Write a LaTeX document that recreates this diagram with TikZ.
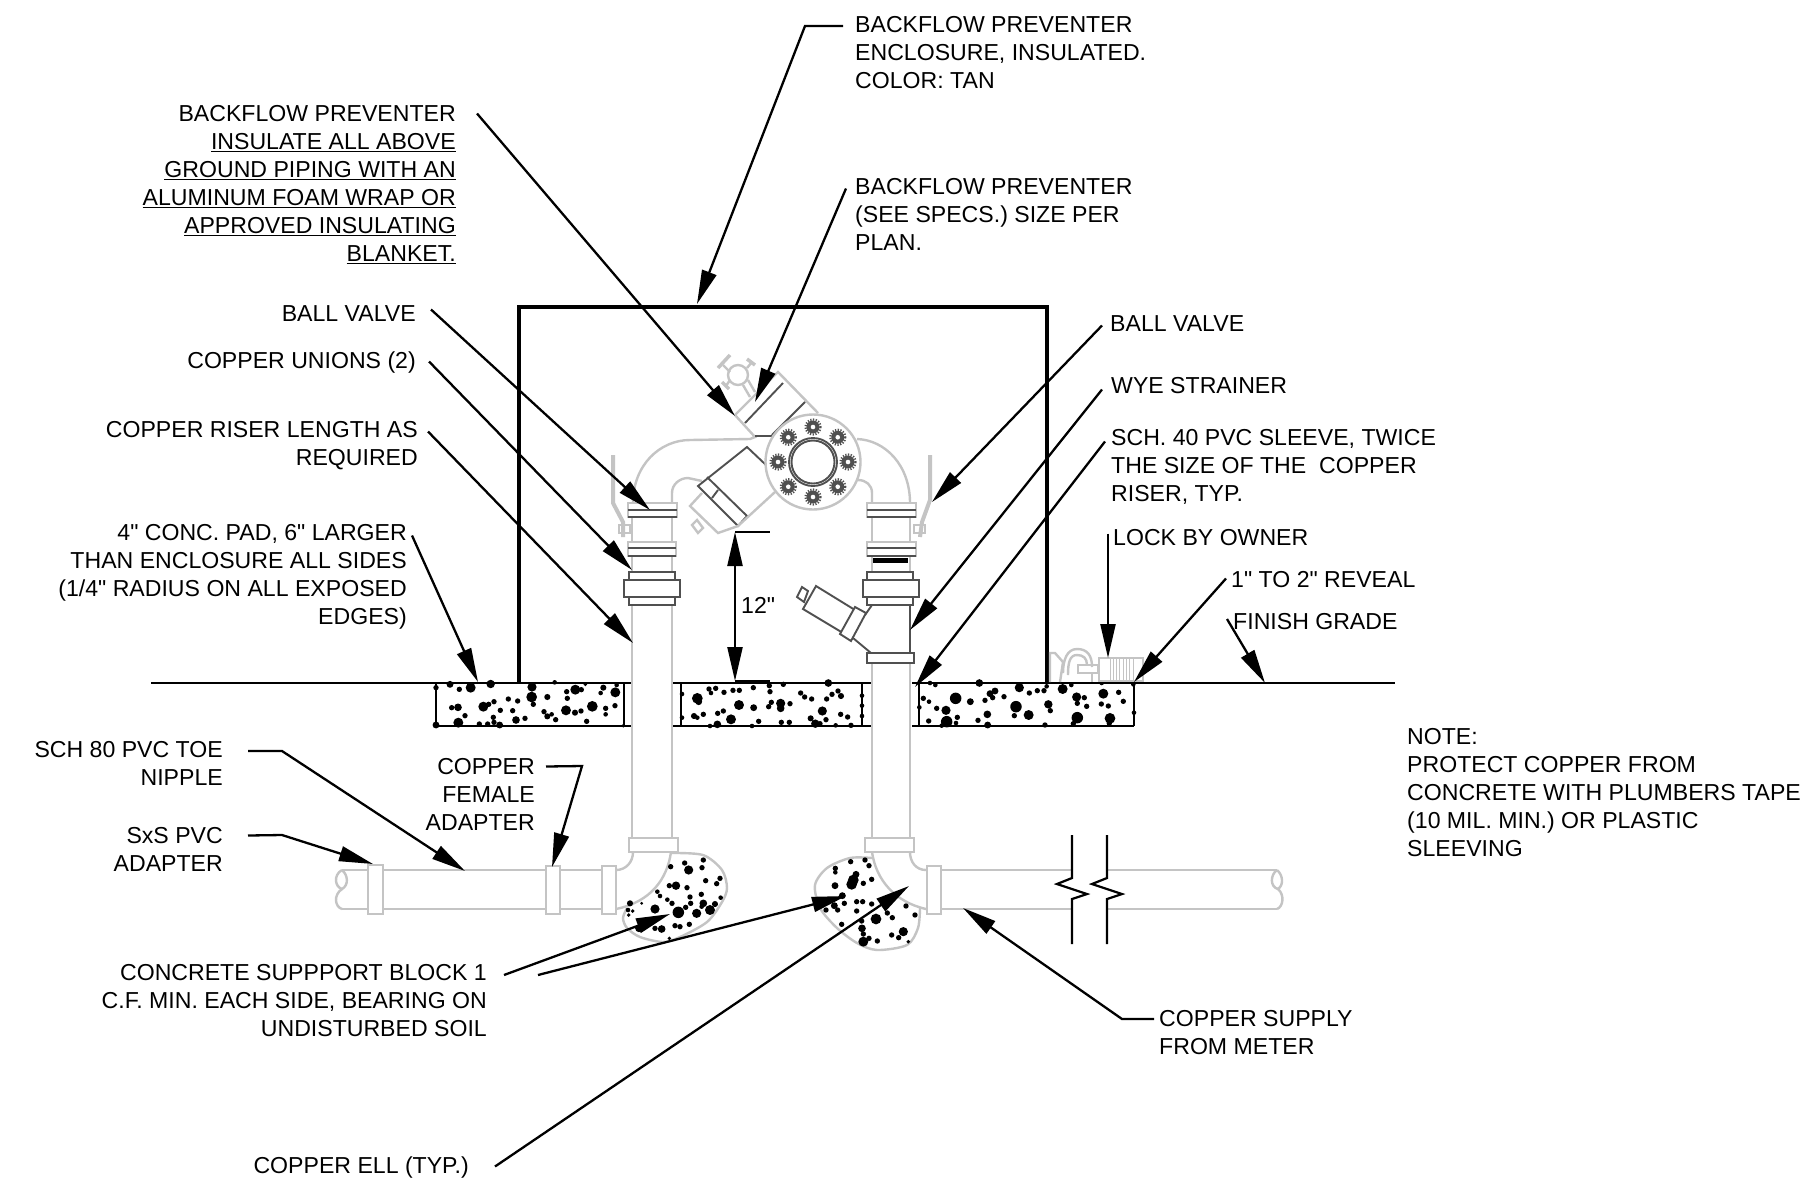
\documentclass[tikz,border=0pt]{standalone}
\usepackage{fontspec}
\newfontfamily\lblfont{Liberation Sans}
\usepackage{tikz}
\usetikzlibrary{arrows.meta}
\newcommand{\gridw}{1804}
\newcommand{\gridh}{1187}
\definecolor{pipegrey}{HTML}{C4C4C4}
\definecolor{fitgrey}{HTML}{505050}
\definecolor{boltgrey}{HTML}{505050}
\tikzset{
    lbl/.style = {inner sep=0pt, yshift=-1pt, font=\lblfont\fontsize{23.1}{28}\selectfont},
    lblL/.style = {lbl, anchor=north west, align=left},
    lblR/.style = {lbl, anchor=north east, align=right},
    leader/.style = {black, line width=2.3pt, line join=miter, -{Triangle[length=34pt,width=15pt]}},
    dimline/.style = {black, line width=2.3pt, {Triangle[length=34pt,width=15pt]}-{Triangle[length=34pt,width=15pt]}},
    pipe/.style = {draw=pipegrey, line width=2.4pt},
    fit/.style = {draw=fitgrey, line width=1.9pt},
    slab/.style = {black, line width=2.8pt},
    speck/.style = {fill=black, draw=none},
}

\begin{document}
\begin{tikzpicture}[x=1pt,y=-1pt]
        \useasboundingbox (0,0) rectangle (\gridw,\gridh);
        \fill[white] (0,0) rectangle (\gridw,\gridh);
        %\draw[help lines,step=100] (0,0) grid (\gridw,\gridh);

        \begin{scope}
            % grade, pad
            \draw[slab] (151,683) -- (631,683);
            \draw[slab] (673,683) -- (872,683);
            \draw[slab] (912,683) -- (1395,683);
            \draw[slab] (436,726) -- (631,726);
            \draw[slab] (673,726) -- (872,726);
            \draw[slab] (912,726) -- (1134,726);
            \draw[slab] (436,683) -- (436,726);
            \draw[slab] (624,683) -- (624,726);
            \draw[slab] (681,683) -- (681,726);
            \draw[slab] (862,683) -- (862,726);
            \draw[slab] (919,683) -- (919,726);
            \draw[slab] (1134,683) -- (1134,726);

            % enclosure
            \draw[black,line width=4.4pt,line join=miter] (519,682) -- (519,307) -- (1047,307) -- (1047,682);
        \end{scope}

        \begin{scope}[shift={(430,675)},scale=0.3333]
            \foreach \a/\b/\c in {18/38/7,60/28/9,88/43/7,122/38/13,182/27/11,306/36/12,305/66/14,310/88/7,374/22/6,352/66/8,410/50/7,412/70/7,436/44/13,454/44/7,466/28/5,520/38/8,512/54/6,556/52/13,560/30/6,65/98/7,84/97/10,105/122/7,85/143/13,18/150/9,148/147/7,173/147/7,190/127/7,192/142/7,209/150/9,258/135/10,285/130/7,160/95/13,176/88/7,192/80/7,235/72/7,263/78/7,211/106/7,248/107/7,342/110/7,352/124/8,365/118/6,377/134/7,408/106/13,435/113/8,453/108/7,487/94/14,527/100/7,527/118/6,555/92/7,470/139/7,580/152/5}
                \fill[speck] (\a,\b) circle[radius=1.15*\c];
        \end{scope}
        \begin{scope}[shift={(670,675)},scale=0.3333]
            \foreach \a/\b/\c in {36/57/6,36/128/6,117/42/7,137/40/7,123/54/6,162/52/7,189/46/7,208/46/7,250/38/7,298/32/7,300/50/7,340/28/7,475/24/10,392/54/7,404/66/7,425/72/7,470/72/7,486/58/7,504/48/7,513/63/8,576/62/6,576/92/6,576/123/6,82/70/14,86/80/9,207/90/13,251/98/9,296/95/7,304/82/7,332/85/12,332/100/10,360/86/7,72/123/8,82/128/6,100/118/7,143/115/7,160/108/7,183/133/13,266/139/7,334/142/7,358/142/7,142/148/10,120/153/6,246/153/6,422/130/8,436/146/11,450/146/7,457/108/12,468/134/7,497/151/6,512/118/7,533/126/7,543/151/7}
                \fill[speck] (\a,\b) circle[radius=1.15*\c];
        \end{scope}
        \begin{scope}[shift={(910,675)},scale=0.3333]
            \foreach \a/\b/\c in {60/24/6,76/30/6,208/24/10,28/97/6,40/70/7,57/80/6,80/100/7,108/106/12,137/70/15,181/80/9,225/76/7,240/56/9,255/48/9,248/68/7,282/65/7,328/38/12,358/54/7,382/47/7,402/47/7,410/34/6,458/42/13,484/30/6,575/24/6,500/66/12,502/85/7,523/68/7,530/94/7,580/56/13,626/52/7,640/79/7,574/87/7,595/93/7,318/95/15,415/88/11,421/107/7,313/122/7,356/120/13,232/118/10,204/136/7,233/150/9,56/138/7,110/140/15,142/127/7,138/144/6,95/152/6,405/150/7,502/128/15,490/146/7,600/130/14,598/145/7,672/113/6,670/28/6}
                \fill[speck] (\a,\b) circle[radius=1.15*\c];
        \end{scope}

        \begin{scope}
            % risers
            \draw[pipe] (632,503) -- (632,838);
            \draw[pipe] (672,503) -- (672,838);
            \draw[pipe] (872,503) -- (872,605);
            \draw[pipe] (910,503) -- (910,605);
            \draw[pipe] (872,662) -- (872,838);
            \draw[pipe] (910,662) -- (910,838);

            % supply line
            \draw[pipe] (342,870) -- (616,870);
            \draw[pipe] (342,909) -- (616,909);
            \draw[pipe] (926,870) -- (1072,870);
            \draw[pipe] (926,909) -- (1072,909);
            \draw[pipe] (1107,870) -- (1277,870);
            \draw[pipe] (1107,909) -- (1277,909);
            \draw[pipe] (342,870) .. controls (333,875) and (335,887) .. (342,889) .. controls (349,885) and (348,875) .. (342,870);
            \draw[pipe] (342,889) .. controls (333,895) and (335,907) .. (342,909);
            \draw[pipe] (1277,870) .. controls (1270,875) and (1270,887) .. (1278,889) .. controls (1284,885) and (1283,875) .. (1277,870);
            \draw[pipe] (1278,889) .. controls (1285,895) and (1283,907) .. (1277,909);

            % blocks
            \draw[pipe,fill=white] plot[smooth] coordinates {(671,853) (703,855) (722,870) (727,888) (722,902) (707,922) (680,937) (663,942) (640,937) (627,928) (623,918) (627,908)};
            \draw[pipe,fill=white] plot[smooth] coordinates {(872,858) (850,858) (827,868) (815,885) (820,908) (837,928) (857,943) (877,950) (907,945) (918,928) (920,908)};

            % ells
            \draw[pipe] (633,852) .. controls (633,862) and (626,870) .. (616,870);
            \draw[pipe] (671,852) .. controls (667,880) and (650,902) .. (616,909);
            \draw[pipe] (872,852) .. controls (876,880) and (895,902) .. (926,909);
            \draw[pipe] (910,852) .. controls (910,862) and (916,870) .. (926,870);
        \end{scope}

        \begin{scope}[shift={(600,835)},scale=0.3333]
            \foreach \a/\b/\c in {212/95/7,254/84/7,266/105/12,310/75/7,306/98/7,317/137/7,360/130/7,350/146/7,208/152/7,228/152/11,261/158/7,172/170/6,180/183/6,202/194/6,216/205/7,270/186/7,272/205/7,257/217/7,304/178/7,310/205/10,305/215/6,345/207/8,330/225/13,362/188/6,165/222/12,235/232/15,290/235/12,90/205/8,84/225/6,98/228/5,86/240/5,125/205/4,117/280/10,165/280/7,185/282/10,225/272/7,240/275/7,268/268/7,208/310/5}
                \fill[speck] (\a,\b) circle[radius=1.15*\c];
        \end{scope}
        \begin{scope}[shift={(800,835)},scale=0.3333]
            \foreach \a/\b/\c in {152/80/7,195/75/7,207/92/7,106/100/7,106/112/6,168/118/9,160/135/14,155/148/14,215/133/7,190/145/7,105/152/9,127/182/9,133/205/7,170/200/7,188/200/7,78/225/7,103/212/9,113/225/7,170/228/7,215/207/7,228/252/14,262/234/7,277/248/7,345/240/7,125/268/7,185/258/7,186/280/10,190/297/7,190/320/13,207/310/7,232/318/7,275/300/7,296/308/7,310/290/12,325/320/5,318/213/7}
                \fill[speck] (\a,\b) circle[radius=1.15*\c];
        \end{scope}

        \begin{scope}
            % flanges and collars
            \draw[pipe,fill=white] (368,865) rectangle (383,914);
            \draw[pipe,fill=white] (546,866) rectangle (560,914);
            \draw[pipe,fill=white] (602,866) rectangle (616,914);
            \draw[pipe,fill=white] (927,866) rectangle (941,914);
            \draw[pipe,fill=white] (629,838) rectangle (678,852);
            \draw[pipe,fill=white] (865,838) rectangle (914,852);

            % breaks
            \draw[black,line width=2.2pt] (1072,835) -- (1072,878) -- (1057,884) -- (1087,894) -- (1072,899) -- (1072,944);
            \draw[black,line width=2.2pt] (1107,835) -- (1107,878) -- (1092,884) -- (1122,894) -- (1107,899) -- (1107,944);

            % left unions
            \draw[pipe,fill=white] (628,503) rectangle (677,517);
            \draw[fit] (628,510) -- (677,510);
            \draw[fit] (628,517) -- (677,517);
            \draw[pipe,fill=white] (628,542) rectangle (676,556);
            \draw[fit] (628,548) -- (676,548);
            \draw[fit] (628,556) -- (676,556);
            \draw[fit,fill=white] (629,572) rectangle (675,580);
            \draw[fit,fill=white] (624,580) rectangle (680,597);
            \draw[fit,fill=white] (629,597) rectangle (675,605);

            % right unions
            \draw[pipe,fill=white] (867,503) rectangle (916,517);
            \draw[fit] (867,510) -- (916,510);
            \draw[fit] (867,517) -- (916,517);
            \draw[pipe,fill=white] (867,542) rectangle (916,556);
            \draw[fit] (867,548) -- (916,548);
            \draw[fit] (867,556) -- (916,556);
            \fill[black] (873,558) rectangle (908,563);
            \draw[fit,fill=white] (867,572) rectangle (913,580);
            \draw[fit,fill=white] (863,580) rectangle (919,597);
            \draw[fit,fill=white] (867,597) rectangle (913,605);

            % strainer
            \draw[fit] (910,605) -- (910,653);
            \draw[fit] (872,605) -- (865,615);
            \draw[fit] (853,638) -- (871,653);
            \draw[fit,fill=white] (816,586) -- (803,609) -- (843,633) -- (855,610) -- cycle;
            \draw[fit,fill=white] (855,607) -- (866,613) -- (851,641) -- (840,634) -- cycle;
            \draw[fit,fill=white] (802,587) -- (808,591) -- (804,602) -- (797,597) -- cycle;
            \draw[fit,fill=white] (867,653) rectangle (914,663);

            % levers
            \draw[draw=pipegrey,line width=4pt] (613,455) -- (613,503) -- (623,522) -- (623,537);
            \draw[pipe] (619,525) rectangle (630,533);
            \draw[draw=pipegrey,line width=4pt] (930,455) -- (930,500) -- (922,522) -- (920,537);
            \draw[pipe] (914,525) rectangle (925,533);

            % bends
            \draw[pipe] (633,503) .. controls (633,465) and (660,440) .. (690,440) -- (750,439) -- (755,437) -- (735,415);
            \draw[pipe] (672,503) -- (672,493) .. controls (672,484) and (680,478) .. (688,478) -- (702,481);
            \draw[pipe] (910,503) .. controls (910,465) and (885,440) .. (857,439);
            \draw[pipe] (872,503) -- (872,493) .. controls (872,485) and (866,480) .. (858,480);

            % preventer body
            \draw[pipe] (735,415) -- (778,372) -- (818,413);
            \draw[fit] (745,423) -- (783,383);
            \draw[fit] (772,435) -- (805,402);
            \draw[fit] (755,436) -- (772,436);
            \draw[fit] (766,465) -- (747,447) -- (698,486) -- (738,526) -- (747,516) -- (707,477);
            \draw[fit] (718,490) -- (712,498);
            \draw[pipe] (775,492) -- (738,526) -- (718,533) -- (690,506) -- (702,493);
            \draw[pipe] (692,525) -- (697,520) -- (703,528) -- (698,533) -- cycle;

            % test cock
            \draw[pipe,fill=white] (738,375) circle[radius=10];
            \draw[pipe] (723,365) -- (730,372);
            \draw[draw=pipegrey,line width=3.5pt] (718,368) -- (730,355);
            \draw[pipe] (747,368) -- (752,362);
            \draw[draw=pipegrey,line width=3.5pt] (747,359) -- (755,365);
            \draw[pipe] (730,380) -- (726,386);
            \draw[draw=pipegrey,line width=3.5pt] (722,382) -- (729,389);
            \draw[pipe] (743,385) -- (750,397);
            \draw[pipe] (748,380) -- (755,392);

            % flange
            \draw[pipe,fill=white] (813,462) circle[radius=47.5];
            \draw[fit] (813,462) circle[radius=24];
            \draw[fit] (813,462) circle[radius=21.5];
            \foreach \t in {0,45,...,315}{
                \fill[boltgrey] (813,462) ++(\t:35) circle[radius=6.5];
                \draw[boltgrey,line width=2.2pt,dash pattern=on 1.2pt off 1.5pt] (813,462) ++(\t:35) circle[radius=7.5];
                \fill[white] (813,462) ++(\t:35) circle[radius=2.3];
            }

            % lock
            \draw[pipe] (1050,682) -- (1050,653) -- (1055,653) -- (1063,662) -- (1060,682);
            \draw[pipe] (1063,673) .. controls (1063,660) and (1067,649) .. (1077,649) .. controls (1087,649) and (1092,655) .. (1092,667);
            \draw[pipe] (1068,675) .. controls (1068,662) and (1070,655) .. (1077,655) .. controls (1083,655) and (1087,658) .. (1087,665);
            \draw[pipe] (1078,665) rectangle (1098,673);
            \draw[pipe] (1092,673) -- (1092,682);
            \draw[pipe] (1099,658) rectangle (1143,681);
            \foreach \x in {1110,1113.3,...,1134}
                \draw[draw=pipegrey,line width=1pt] (\x,659) -- (\x,680);
        \end{scope}

        % labels
        \node[lblL] (lblEnclosure) at (855,15.5) {BACKFLOW PREVENTER\\ENCLOSURE, INSULATED.\\COLOR: TAN};
        \node[lblR] (lblInsulate) at (456,104.5) {BACKFLOW PREVENTER\\\underline{INSULATE ALL ABOVE}\\\underline{GROUND PIPING WITH AN}\\\underline{ALUMINUM FOAM WRAP OR}\\\underline{APPROVED INSULATING}\\\underline{BLANKET.}};
        \node[lblL] (lblSpecs) at (855,177.5) {BACKFLOW PREVENTER\\(SEE SPECS.) SIZE PER\\PLAN.};
        \node[lblR] (lblBallL) at (416,304.5) {BALL VALVE};
        \node[lblR] (lblUnions) at (416,350.5) {COPPER UNIONS (2)};
        \node[lblR] (lblRiser) at (418,420.5) {COPPER RISER LENGTH AS\\REQUIRED};
        \node[lblR] (lblPad) at (407,523.5) {4" CONC. PAD, 6" LARGER\\THAN ENCLOSURE ALL SIDES\\(1/4" RADIUS ON ALL EXPOSED\\EDGES)};
        \node[lblL] (lblBallR) at (1110,314.5) {BALL VALVE};
        \node[lblL] (lblWye) at (1111,376.5) {WYE STRAINER};
        \node[lblL] (lblSleeve) at (1111,428.5) {SCH. 40 PVC SLEEVE, TWICE\\THE SIZE OF THE\ \ COPPER\\RISER, TYP.};
        \node[lblL] (lblLock) at (1113,528.5) {LOCK BY OWNER};
        \node[lblL] (lblReveal) at (1231,570.5) {1" TO 2" REVEAL};
        \node[lblL] (lblGrade) at (1233,612.5) {FINISH GRADE};
        \node[lbl,anchor=west] (lblDim) at (741,604) {12"};
        \node[lblL] (lblNote) at (1407,727.5) {NOTE:\\PROTECT COPPER FROM\\CONCRETE WITH PLUMBERS TAPE\\(10 MIL. MIN.) OR PLASTIC\\SLEEVING};
        \node[lblR] (lblToe) at (223,740.5) {SCH 80 PVC TOE\\NIPPLE};
        \node[lblR] (lblSxS) at (223,826.5) {SxS PVC\\ADAPTER};
        \node[lblR] (lblFemale) at (535,757.5) {COPPER\\FEMALE\\ADAPTER};
        \node[lblR] (lblBlock) at (487,963.5) {CONCRETE SUPPPORT BLOCK 1\\C.F. MIN. EACH SIDE, BEARING ON\\UNDISTURBED SOIL};
        \node[lblR] (lblEll) at (469,1155.5) {COPPER ELL (TYP.)};
        \node[lblL] (lblSupply) at (1159,1009.5) {COPPER SUPPLY\\FROM METER};

        % arrow targets
        \coordinate (bendEnclosure) at (805,26);
        \coordinate (tipEnclosure) at (697,304);
        \coordinate (tipInsulate) at (735,416);
        \coordinate (tipSpecs) at (755,402);
        \coordinate (tipBallL) at (650,510);
        \coordinate (tipUnions) at (632,570);
        \coordinate (tipRiser) at (633,643);
        \coordinate (tipPad) at (478,682);
        \coordinate (tipBallR) at (932,502);
        \coordinate (tipWye) at (910,630);
        \coordinate (tipSleeve) at (915,687);
        \coordinate (tipLock) at (1108,658);
        \coordinate (tipReveal) at (1134,682);
        \coordinate (tipGrade) at (1265,683);
        \coordinate (bendToe) at (282,751);
        \coordinate (tipToe) at (465,871);
        \coordinate (bendSxS) at (282,835);
        \coordinate (tipSxS) at (373,864);
        \coordinate (bendFemale) at (582,766);
        \coordinate (tipFemale) at (552,867);
        \coordinate (tipBlockL) at (670,914);
        \coordinate (tipBlockR) at (846,896);
        \coordinate (tipEll) at (909,886);
        \coordinate (bendSupply) at (1122,1019);
        \coordinate (tipSupply) at (963,908);
        \coordinate (dimTop) at (735,532);
        \coordinate (dimBot) at (735,681);
        \coordinate (dimTopEnd) at (770,532);
        \coordinate (dimBotEnd) at (770,681);

        % leaders
        \draw[leader] ([shift={(-12,9.5)}]lblEnclosure.north west) -- (bendEnclosure) -- (tipEnclosure);
        \draw[leader] ([shift={(21,8)}]lblInsulate.north east) -- (tipInsulate);
        \draw[leader] ([shift={(-9,10)}]lblSpecs.north west) -- (tipSpecs);
        \draw[leader] ([shift={(15,4)}]lblBallL.north east) -- (tipBallL);
        \draw[leader] ([shift={(13,10)}]lblUnions.north east) -- (tipUnions);
        \draw[leader] ([shift={(10,10)}]lblRiser.north east) -- (tipRiser);
        \draw[leader] ([shift={(5,11)}]lblPad.north east) -- (tipPad);
        \draw[leader] ([shift={(-8,10)}]lblBallR.north west) -- (tipBallR);
        \draw[leader] ([shift={(-9,12)}]lblWye.north west) -- (tipWye);
        \draw[leader] ([shift={(-6,12)}]lblSleeve.north west) -- (tipSleeve);
        \draw[leader] ([shift={(-5,4)}]lblLock.north west) -- (tipLock);
        \draw[leader] ([shift={(-5,7)}]lblReveal.north west) -- (tipReveal);
        \draw[leader] ([shift={(-6,5.5)}]lblGrade.north west) -- (tipGrade);
        \draw[leader] ([shift={(25,9.5)}]lblToe.north east) -- (bendToe) -- (tipToe);
        \draw[leader] ([shift={(25,8)}]lblSxS.north east) -- (bendSxS) -- (tipSxS);
        \draw[leader] ([shift={(11,8)}]lblFemale.north east) -- (bendFemale) -- (tipFemale);
        \draw[leader] ([shift={(17,10.5)}]lblBlock.north east) -- (tipBlockL);
        \draw[leader] ([shift={(51,10.5)}]lblBlock.north east) -- (tipBlockR);
        \draw[leader] ([shift={(26,10)}]lblEll.north east) -- (tipEll);
        \draw[leader] ([shift={(-5,8.5)}]lblSupply.north west) -- (bendSupply) -- (tipSupply);

        % 12 inch dimension
        \draw[black,line width=2.3pt] (dimTop) -- (dimTopEnd);
        \draw[black,line width=2.3pt] (dimBot) -- (dimBotEnd);
        \draw[dimline] (dimTop) -- (dimBot);
\end{tikzpicture}
\end{document}
